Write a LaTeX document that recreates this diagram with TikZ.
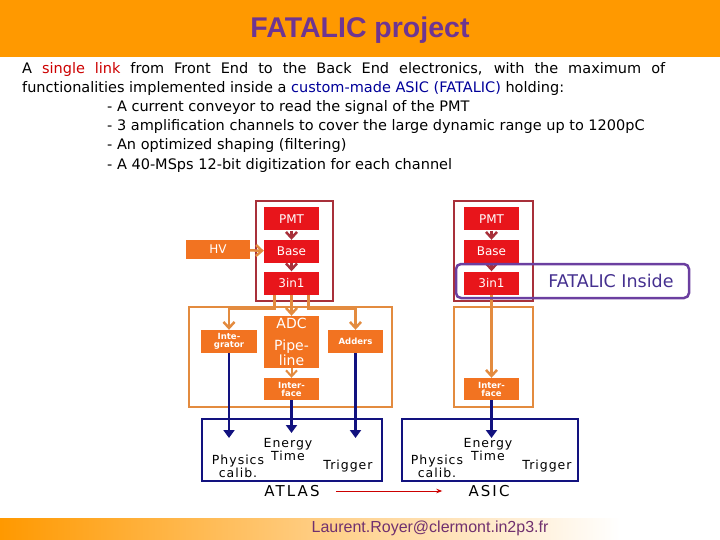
\documentclass[tikz,border=0pt]{standalone}
\usepackage{fontspec}
\setmainfont{Liberation Sans}
\newfontfamily\comica{DejaVu Sans}
\usetikzlibrary{arrows.meta}
\definecolor{naranja}{HTML}{FF9900}
\definecolor{naranjacaja}{HTML}{F27321}
\definecolor{naranjamarco}{HTML}{E38B3F}
\definecolor{rojo}{HTML}{E8151B}
\definecolor{rojomarco}{HTML}{A8303A}
\definecolor{rojotexto}{HTML}{CC0000}
\definecolor{azul}{HTML}{12127F}
\definecolor{azultexto}{HTML}{000099}
\definecolor{morado}{HTML}{6B3FA0}
\definecolor{moradoletra}{HTML}{45308F}
\definecolor{moradotitulo}{HTML}{6E3592}
\definecolor{moradopie}{HTML}{70306F}
\begin{document}
\begin{tikzpicture}[x=1pt,y=-1pt]
\tikzset{
    titulo/.style={text=moradotitulo, font=\fontsize{28.5}{30}\selectfont\bfseries},
    texto/.style={inner sep=0pt, font=\comica\fontsize{14.5}{17}\selectfont},
    caja/.style={fill=rojo, text=white, minimum width=55pt, minimum height=23pt, inner sep=0pt, font=\comica\fontsize{12}{13}\selectfont},
    cajanar/.style={caja, fill=naranjacaja, font=\comica\fontsize{8.5}{8}\selectfont\bfseries, align=center},
    marcorojo/.style={draw=rojomarco, line width=1.5pt},
    marconar/.style={draw=naranjamarco, line width=1.5pt},
    flecharoja/.style={draw=rojomarco, line width=2.5pt, -{Straight Barb[length=6pt,width=11pt]}},
    conector/.style={draw=naranjamarco, line width=2.5pt, -{Straight Barb[length=6pt,width=11pt]}},
    bus/.style={draw=azul, line width=2.5pt, -{Triangle[length=8pt,width=11pt]}},
    sistema/.style={draw=azul, line width=1.5pt, minimum width=180pt, minimum height=62pt},
    etiqueta/.style={inner sep=0pt, font=\comica\fontsize{12.5}{13}\selectfont\addfontfeature{LetterSpace=8}},
    nombre/.style={inner sep=0pt, font=\comica\fontsize{15}{16}\selectfont\addfontfeature{LetterSpace=14}}
}
\useasboundingbox (0,0) rectangle (720,540);
% cabecera
\fill[naranja] (0,0) rectangle (720,57);
\node[titulo] (tit) at (360,30) {FATALIC project};
% texto
\node[texto, anchor=base west] (l1) at (22,74) {\makebox[643pt][s]{A \textcolor{rojotexto}{single link} from Front End to the Back End electronics, with the maximum of}};
\node[texto, anchor=base west] (l2) at (22,93) {functionalities implemented inside a \textcolor{azultexto}{custom-made ASIC (FATALIC)} holding:};
\node[texto, anchor=base west] (l3) at (107,112) {- A current conveyor to read the signal of the PMT};
\node[texto, anchor=base west] (l4) at (107,131) {- 3 amplification channels to cover the large dynamic range up to 1200pC};
\node[texto, anchor=base west] (l5) at (107,150) {- An optimized shaping (filtering)};
\node[texto, anchor=base west] (l6) at (107,170) {- A 40-MSps 12-bit digitization for each channel};
% lado ATLAS
\draw[marcorojo] (256,201) rectangle (333,301);
\draw[marconar] (189,307) rectangle (392,407);
\node[caja] (pmtA) at (291.5,219) {PMT};
\node[caja] (baseA) at (291.5,251.5) {Base};
\node[caja] (tresA) at (291.5,283) {3in1};
\node[cajanar, minimum width=64pt, minimum height=19pt, font=\comica\fontsize{12}{13}\selectfont] (hv) at (218,249.5) {HV};
\node[cajanar, minimum width=56pt] (integ) at (229,341.5) {Inte-\\grator};
\node[cajanar, minimum height=52pt, font=\comica\fontsize{14}{13}\selectfont] (adc) at (291.5,342) {ADC\\[9pt]Pipe-\\line};
\node[cajanar] (adders) at (355.5,341.5) {Adders};
\node[cajanar, minimum height=22pt] (ifaceA) at (291.5,389) {Inter-\\face};
\draw[flecharoja] (pmtA) -- (baseA);
\draw[flecharoja] (baseA) -- (tresA);
\draw[conector] (hv) -- (baseA);
\draw[conector] ([xshift=-17pt]tresA.south) -- ++(0,14) -| (integ.north);
\draw[conector] (tresA.south) -- (adc.north);
\draw[conector] ([xshift=17pt]tresA.south) -- ++(0,14) -| (adders.north);
\draw[conector, line width=2pt] (adc.south) -- (ifaceA.north);
% lado ASIC
\draw[marcorojo] (454,201) rectangle (533,301);
\draw[marconar] (454,307) rectangle (533,407);
\node[caja] (pmtB) at (491.5,219) {PMT};
\node[caja] (baseB) at (491.5,251.5) {Base};
\node[caja] (tresB) at (491.5,283) {3in1};
\node[cajanar, minimum height=22pt] (ifaceB) at (491.5,389) {Inter-\\face};
\draw[flecharoja] (pmtB) -- (baseB);
\draw[flecharoja] (baseB) -- (tresB);
\draw[conector] (tresB.south) -- (ifaceB.north);
\draw[draw=morado, line width=2.5pt, rounded corners=5pt] (456,264) rectangle (689,298);
\node[text=moradoletra, font=\comica\fontsize{17.5}{18}\selectfont] (inside) at (611,281) {FATALIC Inside};
% sistemas
\node[sistema] (atlas) at (292,450) {};
\node[sistema, minimum width=176pt] (asic) at (490,450) {};
\coordinate (tip) at (0,438);
\draw[bus] (integ.south) -- (integ.south |- tip);
\draw[bus] (ifaceA.south) -- ([yshift=5pt]ifaceA.south |- tip);
\draw[bus] (adders.south) -- (adders.south |- tip);
\draw[bus] (ifaceB.south) -- (ifaceB.south |- tip);
\node[etiqueta] (enA) at (288,444) {Energy};
\node[etiqueta] (tiA) at (288,456) {Time};
\node[etiqueta] (phA) at (238,461) {Physics};
\node[etiqueta] (caA) at (238,473) {calib.};
\node[etiqueta] (trA) at (348,466) {Trigger};
\node[etiqueta] (enB) at (488,444) {Energy};
\node[etiqueta] (tiB) at (488,456) {Time};
\node[etiqueta] (phB) at (437,461) {Physics};
\node[etiqueta] (caB) at (437,473) {calib.};
\node[etiqueta] (trB) at (547,466) {Trigger};
\node[nombre] (lblA) at (292,491) {ATLAS};
\node[nombre] (lblB) at (489,491) {ASIC};
\draw[draw=rojotexto, line width=1pt, -{Stealth[length=6pt]}, shorten <=16pt, shorten >=26pt] (lblA.east) -- (lblB.west);
% pie
\shade[left color=naranja, right color=white] (0,518) rectangle (620,540);
\node[text=moradopie, font=\fontsize{16}{17}\selectfont] (pie) at (430,528) {Laurent.Royer@clermont.in2p3.fr};
\end{tikzpicture}
\end{document}
